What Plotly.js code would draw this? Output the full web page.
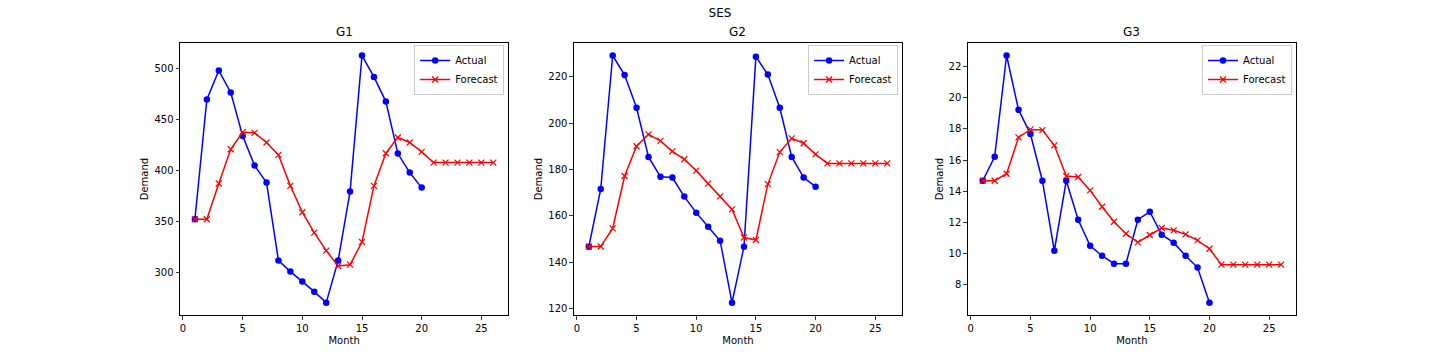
<!DOCTYPE html>
<html>
<head>
<meta charset="utf-8">
<script src="https://cdn.plot.ly/plotly-3.0.1.min.js"></script>
<style>html,body{margin:0;padding:0;background:#fff;}#chart{width:1440px;height:360px;}</style>
</head>
<body>
<div id="chart"></div>
<script>
const months = [1,2,3,4,5,6,7,8,9,10,11,12,13,14,15,16,17,18,19,20];
const forecastMonths = [1,2,3,4,5,6,7,8,9,10,11,12,13,14,15,16,17,18,19,20,21,22,23,24,25,26];
const panelTitles = ['G1','G2','G3'];

const g1Actual = [352.3,469.6,498.0,476.5,434.0,404.9,388.2,311.8,301.0,291.2,281.4,270.6,311.8,379.4,512.7,491.8,467.6,416.7,398.0,383.3];
const g1Forecast = [352.3,352.3,387.3,420.9,437.6,437.0,427.5,415.4,385.0,359.2,339.2,321.6,306.5,307.8,330.0,385.0,417.0,432.4,427.5,418.3,407.8,407.8,407.8,407.8,407.8,407.8];

const g2Actual = [146.7,171.6,229.1,220.7,206.6,185.4,176.9,176.5,168.3,161.4,155.3,149.3,122.6,146.7,228.6,220.9,206.6,185.4,176.5,172.6];
const g2Forecast = [146.8,146.8,154.6,177.2,190.0,195.1,192.3,187.8,184.4,179.5,173.9,168.4,162.8,150.7,149.6,173.7,187.5,193.4,191.3,186.5,182.6,182.6,182.6,182.6,182.6,182.6];

const g3Actual = [14.67,16.21,22.70,19.22,17.66,14.67,10.18,14.67,12.17,10.50,9.86,9.35,9.35,12.17,12.68,11.21,10.70,9.86,9.10,6.85];
const g3Forecast = [14.67,14.67,15.12,17.45,17.96,17.92,16.94,14.97,14.91,14.05,13.00,12.04,11.27,10.72,11.19,11.64,11.49,11.23,10.85,10.31,9.29,9.29,9.29,9.29,9.29,9.29];

const actualSeries = [g1Actual, g2Actual, g3Actual];
const forecastSeries = [g1Forecast, g2Forecast, g3Forecast];

const W = 1440, H = 360;
const xDomains = [[180/W, 508.2/W],[573.9/W, 902.1/W],[967.8/W, 1296/W]];
const yDomain = [45/H, 1 - 43.2/H];
const yRanges = [[258.5, 524.8],[117.3, 234.4],[6.06, 23.49]];
const yDticks = [50, 20, 2];
const font = {family: 'DejaVu Sans, sans-serif', size: 10, color: '#000'};

const traces = [];
const layout = {
  width: W, height: H,
  margin: {l:0, r:0, t:0, b:0},
  paper_bgcolor: '#fff', plot_bgcolor: '#fff',
  font: font,
  showlegend: true,
  title: {text: 'SES', x: 0.5, xanchor: 'center', y: 1 - 13/H, yanchor: 'middle', font: {family: font.family, size: 12, color: '#000'}},
  annotations: []
};

for (let i = 0; i < 3; i++) {
  const sfx = i === 0 ? '' : String(i + 1);
  const legendName = 'legend' + sfx;
  traces.push({
    x: months, y: actualSeries[i], type: 'scatter', mode: 'lines+markers', name: 'Actual',
    xaxis: 'x' + sfx, yaxis: 'y' + sfx, legend: legendName,
    line: {color: '#0000ff', width: 1.5},
    marker: {color: '#0000ff', size: 6.5, symbol: 'circle'}
  });
  traces.push({
    x: forecastMonths, y: forecastSeries[i], type: 'scatter', mode: 'lines+markers', name: 'Forecast',
    xaxis: 'x' + sfx, yaxis: 'y' + sfx, legend: legendName,
    line: {color: '#ff0000', width: 1.5},
    marker: {color: '#ff0000', size: 6, symbol: 'x-thin', line: {color: '#ff0000', width: 1.2}}
  });
  const axCommon = {
    showgrid: false, zeroline: false, showline: true, mirror: true,
    linecolor: '#000', linewidth: 1, ticks: 'outside', ticklen: 3.5, tickwidth: 0.8, tickcolor: '#000',
    tickfont: font
  };
  layout['xaxis' + sfx] = Object.assign({}, axCommon, {
    domain: xDomains[i], anchor: 'y' + sfx, range: [-0.25, 27.25], dtick: 5, tick0: 0,
    title: {text: 'Month', font: font, standoff: 4}
  });
  layout['yaxis' + sfx] = Object.assign({}, axCommon, {
    domain: yDomain, anchor: 'x' + sfx, range: yRanges[i], dtick: yDticks[i],
    title: {text: 'Demand', font: font, standoff: 3}
  });
  layout[legendName] = {
    x: xDomains[i][1] - 4/W, xanchor: 'right', y: 1 - 45/H, yanchor: 'top',
    bgcolor: '#fff', bordercolor: '#cccccc', borderwidth: 1,
    font: font, tracegroupgap: 0, itemwidth: 30
  };
  layout.annotations.push({
    text: panelTitles[i], xref: 'paper', yref: 'paper',
    x: (xDomains[i][0] + xDomains[i][1]) / 2, xanchor: 'center',
    y: 1 - 32/H, yanchor: 'middle', showarrow: false,
    font: {family: font.family, size: 12, color: '#000'}
  });
}

Plotly.newPlot('chart', traces, layout, {staticPlot: true, displayModeBar: false});
</script>
</body>
</html>
